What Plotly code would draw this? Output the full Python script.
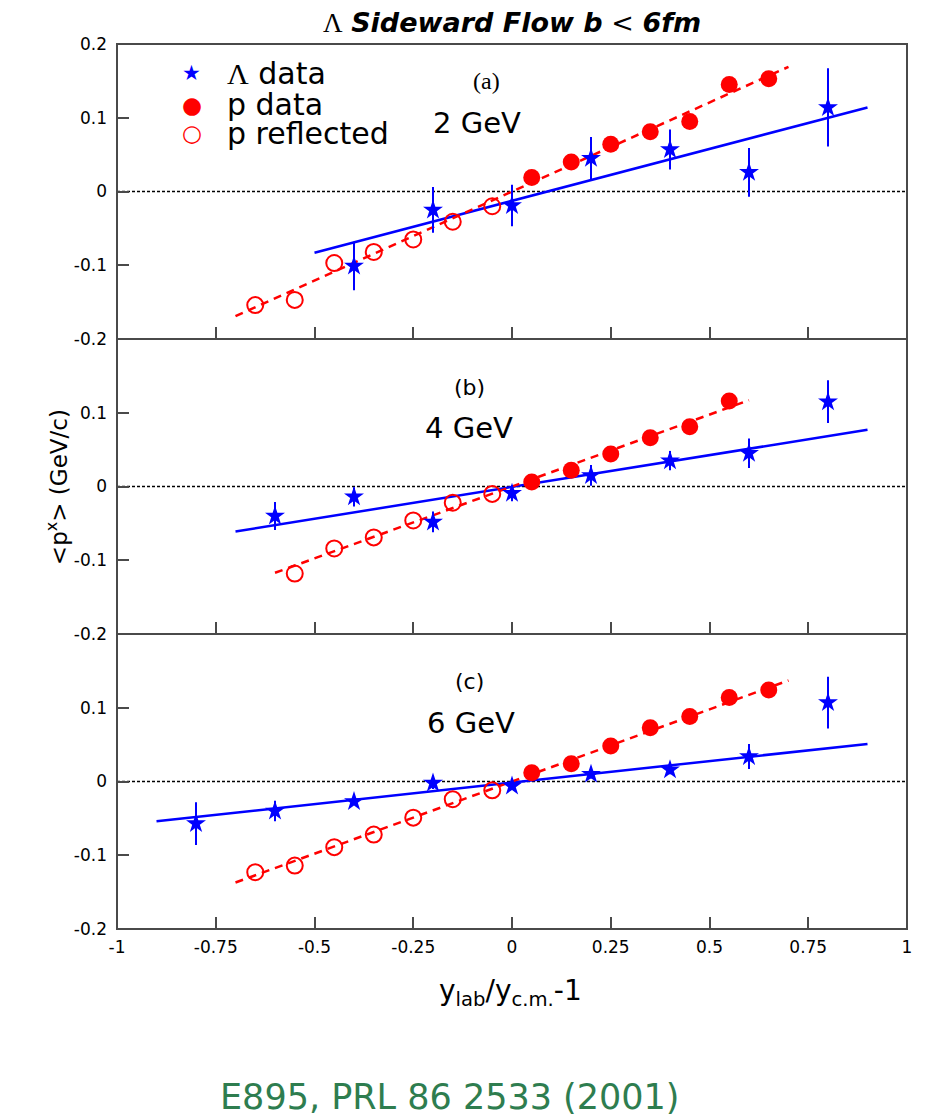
import plotly.graph_objects as go

# ---- axis ticks -------------------------------------------------------------
x_ticks = [-1, -0.75, -0.5, -0.25, 0, 0.25, 0.5, 0.75, 1]
x_tick_text = ["-1", "-0.75", "-0.5", "-0.25", "0", "0.25", "0.5", "0.75", "1"]
y_ticks_top = [-0.2, -0.1, 0, 0.1, 0.2]
y_tick_text_top = ["-0.2", "-0.1", "0", "0.1", "0.2"]
y_ticks = [-0.2, -0.1, 0, 0.1]
y_tick_text = ["-0.2", "-0.1", "0", "0.1"]

panel_tags = ["(a)", "(b)", "(c)"]
beam_energies = ["2 GeV", "4 GeV", "6 GeV"]
legend_labels = ["<span style='font-family:Liberation Serif'>Λ</span> data", "p data", "p reflected"]

# ---- Lambda <px> with errors ------------------------------------------------
lam_x_a = [-0.4, -0.2, 0.0, 0.2, 0.4, 0.6, 0.8]
lam_y_a = [-0.101, -0.025, -0.019, 0.045, 0.057, 0.026, 0.114]
lam_e_a = [0.033, 0.031, 0.028, 0.029, 0.027, 0.033, 0.053]

lam_x_b = [-0.6, -0.4, -0.2, 0.0, 0.2, 0.4, 0.6, 0.8]
lam_y_b = [-0.040, -0.014, -0.048, -0.009, 0.015, 0.035, 0.045, 0.115]
lam_e_b = [0.019, 0.013, 0.014, 0.011, 0.014, 0.013, 0.020, 0.029]

lam_x_c = [-0.8, -0.6, -0.4, -0.2, 0.0, 0.2, 0.4, 0.6, 0.8]
lam_y_c = [-0.057, -0.040, -0.027, -0.002, -0.006, 0.010, 0.016, 0.034, 0.107]
lam_e_c = [0.029, 0.014, 0.005, 0.008, 0.005, 0.006, 0.006, 0.017, 0.035]

# ---- proton <px> (forward hemisphere) ---------------------------------------
p_x_a = [0.05, 0.15, 0.25, 0.35, 0.45, 0.55, 0.65]
p_y_a = [0.019, 0.040, 0.064, 0.081, 0.095, 0.145, 0.153]
p_x_b = [0.05, 0.15, 0.25, 0.35, 0.45, 0.55]
p_y_b = [0.006, 0.022, 0.044, 0.066, 0.081, 0.116]
p_x_c = [0.05, 0.15, 0.25, 0.35, 0.45, 0.55, 0.65]
p_y_c = [0.012, 0.024, 0.048, 0.073, 0.088, 0.114, 0.124]

# ---- proton <px> reflected into the backward hemisphere ----------------------
pr_x_a = [-0.65, -0.55, -0.45, -0.35, -0.25, -0.15, -0.05]
pr_y_a = [-0.154, -0.147, -0.097, -0.082, -0.065, -0.041, -0.020]
pr_x_b = [-0.55, -0.45, -0.35, -0.25, -0.15, -0.05]
pr_y_b = [-0.118, -0.084, -0.069, -0.046, -0.022, -0.010]
pr_x_c = [-0.65, -0.55, -0.45, -0.35, -0.25, -0.15, -0.05]
pr_y_c = [-0.123, -0.114, -0.089, -0.072, -0.049, -0.024, -0.012]

# ---- linear fits (end points) ----------------------------------------------
lam_fit_x_a, lam_fit_y_a = [-0.5, 0.9], [-0.083, 0.114]
lam_fit_x_b, lam_fit_y_b = [-0.7, 0.9], [-0.061, 0.077]
lam_fit_x_c, lam_fit_y_c = [-0.9, 0.9], [-0.054, 0.051]
p_fit_x_a, p_fit_y_a = [-0.7, 0.7], [-0.169, 0.169]
p_fit_x_b, p_fit_y_b = [-0.6, 0.6], [-0.117, 0.117]
p_fit_x_c, p_fit_y_c = [-0.7, 0.7], [-0.137, 0.137]

BLUE = "#0000ff"
RED = "#ff0000"
FRAME = "#4a4a4a"
SANS = "DejaVu Sans"

panels = [
    dict(lx=lam_x_a, ly=lam_y_a, le=lam_e_a, px=p_x_a, py=p_y_a, rx=pr_x_a, ry=pr_y_a,
         lfx=lam_fit_x_a, lfy=lam_fit_y_a, pfx=p_fit_x_a, pfy=p_fit_y_a),
    dict(lx=lam_x_b, ly=lam_y_b, le=lam_e_b, px=p_x_b, py=p_y_b, rx=pr_x_b, ry=pr_y_b,
         lfx=lam_fit_x_b, lfy=lam_fit_y_b, pfx=p_fit_x_b, pfy=p_fit_y_b),
    dict(lx=lam_x_c, ly=lam_y_c, le=lam_e_c, px=p_x_c, py=p_y_c, rx=pr_x_c, ry=pr_y_c,
         lfx=lam_fit_x_c, lfy=lam_fit_y_c, pfx=p_fit_x_c, pfy=p_fit_y_c),
]

fig = go.Figure()

for i, d in enumerate(panels):
    xa = "x" if i == 0 else f"x{i + 1}"
    ya = "y" if i == 0 else f"y{i + 1}"
    fig.add_trace(go.Scatter(x=d["lfx"], y=d["lfy"], mode="lines", xaxis=xa, yaxis=ya,
                             line=dict(color=BLUE, width=2.5)))
    fig.add_trace(go.Scatter(x=d["pfx"], y=d["pfy"], mode="lines", xaxis=xa, yaxis=ya,
                             line=dict(color=RED, width=2.5, dash="8px,6px")))
    fig.add_trace(go.Scatter(x=d["rx"], y=d["ry"], mode="markers", xaxis=xa, yaxis=ya,
                             name="p reflected",
                             marker=dict(symbol="circle-open", size=16, color=RED,
                                         line=dict(width=2, color=RED))))
    fig.add_trace(go.Scatter(x=d["px"], y=d["py"], mode="markers", xaxis=xa, yaxis=ya,
                             name="p data",
                             marker=dict(symbol="circle", size=17, color=RED)))
    fig.add_trace(go.Scatter(x=d["lx"], y=d["ly"], mode="markers", xaxis=xa, yaxis=ya,
                             name="Λ data",
                             error_y=dict(type="data", array=d["le"], color=BLUE,
                                          thickness=2, width=0),
                             marker=dict(symbol="star", size=15, color=BLUE)))
    # dotted zero line across the panel
    fig.add_shape(type="line", xref=f"{xa} domain", yref=ya, x0=0, x1=1, y0=0, y1=0,
                  line=dict(color="black", width=1.3, dash="3px,2px"), layer="below")
    # panel frame
    fig.add_shape(type="rect", xref=f"{xa} domain", yref=f"{ya} domain",
                  x0=0, x1=1, y0=0, y1=1, line=dict(color=FRAME, width=2),
                  fillcolor="rgba(0,0,0,0)", layer="above")

axis_common = dict(showline=False, mirror=False,
                   ticks="inside", ticklen=12, tickwidth=1.5, tickcolor=FRAME,
                   showgrid=False, zeroline=False,
                   tickfont=dict(family=SANS, size=17, color="black"))

domains = [[2 / 3, 1.0], [1 / 3, 2 / 3], [0.0, 1 / 3]]
layout = dict(
    width=925, height=1118,
    margin=dict(l=117, r=18, t=44, b=189),
    paper_bgcolor="white", plot_bgcolor="white",
    showlegend=False,
)
for i in range(3):
    sx = "" if i == 0 else str(i + 1)
    ya = "y" if i == 0 else f"y{i + 1}"
    xa = "x" if i == 0 else f"x{i + 1}"
    layout[f"xaxis{sx}"] = dict(axis_common, range=[-1, 1], anchor=ya,
                                tickvals=x_ticks, ticktext=x_tick_text,
                                showticklabels=(i == 2), ticklabelstandoff=6,
                                **({} if i == 2 else {"matches": "x3"}))
    layout[f"yaxis{sx}"] = dict(axis_common, range=[-0.2, 0.2], anchor=xa, domain=domains[i],
                                tickvals=y_ticks_top if i == 0 else y_ticks,
                                ticktext=y_tick_text_top if i == 0 else y_tick_text,
                                ticklabelstandoff=9)
fig.update_layout(**layout)

# legend drawn as text keys inside panel (a)
legend_keys = ["<span style='color:#0000ff'>★</span>",
               "<span style='color:#ff0000'>●</span>",
               "<span style='color:#ff0000'>○</span>"]
key_sizes = [21, 23, 23]
legend_y = [0.9672, 0.9311, 0.8994]
for k in range(3):
    fig.add_annotation(xref="paper", yref="paper", x=0.0949, y=legend_y[k],
                       text=legend_keys[k], showarrow=False,
                       font=dict(family=SANS, size=key_sizes[k]),
                       xanchor="center", yanchor="middle")
    fig.add_annotation(xref="paper", yref="paper", x=0.1367, y=legend_y[k],
                       text=legend_labels[k], showarrow=False,
                       font=dict(family=SANS, size=30, color="black"),
                       xanchor="left", yanchor="middle")

# panel tags and beam energies
tag_x = [0.468, 0.4468, 0.4468]
tag_y = [0.958, 0.6124, 0.2791]
gev_x = [0.4557, 0.4456, 0.448]
gev_y = [0.9107, 0.5661, 0.2332]
for i in range(3):
    tag_font = dict(family="Liberation Serif" if i == 0 else SANS,
                    size=24 if i == 0 else 22, color="black")
    fig.add_annotation(xref="paper", yref="paper", x=tag_x[i], y=tag_y[i],
                       text=panel_tags[i], showarrow=False, font=tag_font,
                       xanchor="center", yanchor="middle")
    fig.add_annotation(xref="paper", yref="paper", x=gev_x[i], y=gev_y[i],
                       text=beam_energies[i], showarrow=False,
                       font=dict(family=SANS, size=29, color="black"),
                       xanchor="center", yanchor="middle")

# figure title
fig.add_annotation(xref="paper", yref="paper", x=0.50, y=1.0, yshift=22,
                   text="<span style='font-family:Liberation Serif;font-weight:normal;font-style:normal'>Λ</span>"
                        " <b><i>Sideward Flow b</i></b> &lt; <b><i>6fm</i></b>",
                   showarrow=False, font=dict(family=SANS, size=27, color="black"),
                   xanchor="center", yanchor="middle")

# axis titles
fig.add_annotation(xref="paper", yref="paper", x=0.498, y=-0.072,
                   text="y<sub>lab</sub>/y<sub>c.m.</sub>-1", showarrow=False,
                   font=dict(family=SANS, size=28, color="black"),
                   xanchor="center", yanchor="middle")
fig.add_annotation(xref="paper", y=0.499, yref="paper", x=-0.075,
                   text="&lt;p<sup>x</sup>&gt; (GeV/c)", textangle=-90, showarrow=False,
                   font=dict(family=SANS, size=23, color="black"),
                   xanchor="center", yanchor="middle")

# reference line
fig.add_annotation(xref="paper", yref="paper", x=0.421, y=-0.190,
                   text="E895, PRL 86 2533 (2001)", showarrow=False,
                   font=dict(family=SANS, size=35, color="#2e7d4f"),
                   xanchor="center", yanchor="middle")

fig.write_html("out.html")
